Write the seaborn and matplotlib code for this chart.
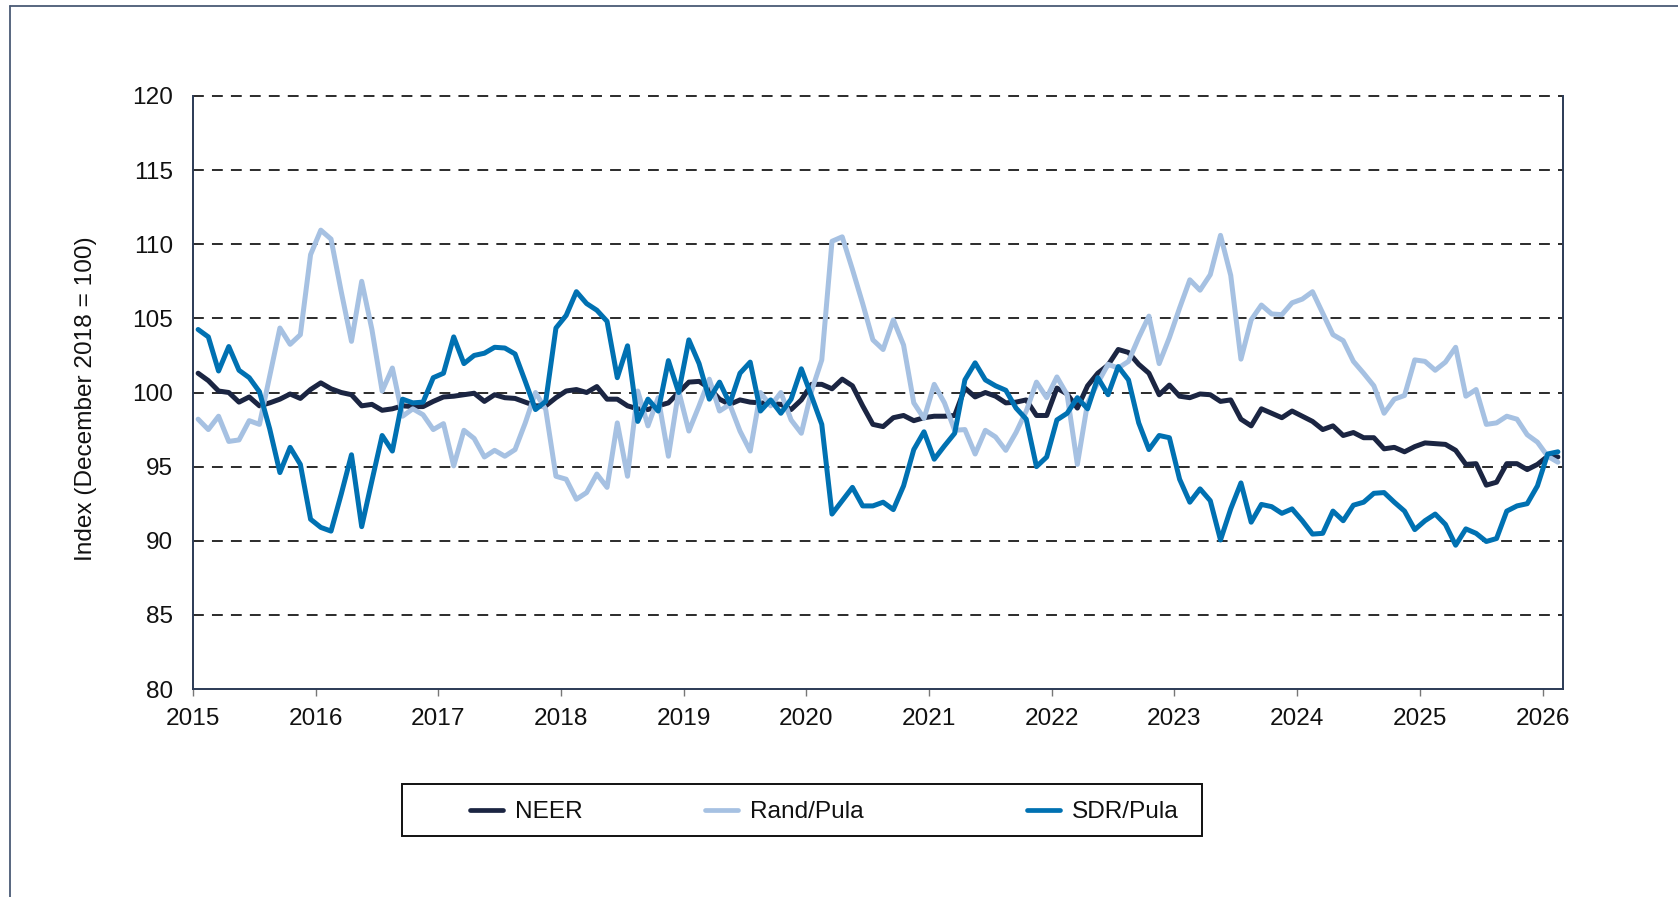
import numpy as np
import pandas as pd
import matplotlib
matplotlib.use("Agg")
import matplotlib.pyplot as plt
import seaborn as sns
from matplotlib.lines import Line2D
from matplotlib.patches import Rectangle

# ---------------- data (monthly, Jan 2015 - Feb 2026) ----------------
start_year = 2015
series_names = ["NEER", "Rand/Pula", "SDR/Pula"]

neer = [101.3, 100.8, 100.1, 100.0, 99.35, 99.7, 99.1, 99.3, 99.55, 99.9, 99.6, 100.2,
        100.65, 100.25, 100.0, 99.85, 99.1, 99.2, 98.8, 98.9, 99.1, 99.05, 99.05, 99.4,
        99.7, 99.75, 99.85, 99.95, 99.4, 99.85, 99.65, 99.6, 99.35, 99.1, 99.1, 99.65,
        100.1, 100.2, 100.0, 100.4, 99.55, 99.55, 99.1, 98.9, 98.85, 99.1, 99.3, 100.0,
        100.7, 100.75, 100.3, 99.55, 99.2, 99.5, 99.35, 99.3, 99.25, 99.2, 98.85, 99.5,
        100.55, 100.55, 100.25, 100.9, 100.45, 99.1, 97.85, 97.7, 98.3, 98.45, 98.1, 98.3,
        98.4, 98.4, 98.45, 100.3, 99.7, 100.0, 99.75, 99.3, 99.35, 99.5, 98.45, 98.45,
        100.3, 99.9, 98.95, 100.45, 101.3, 101.85, 102.9, 102.7, 101.9, 101.3, 99.85, 100.5,
        99.75, 99.65, 99.9, 99.85, 99.4, 99.5, 98.2, 97.75, 98.9, 98.6, 98.3, 98.75,
        98.4, 98.05, 97.5, 97.75, 97.1, 97.3, 96.95, 96.95, 96.2, 96.3, 96.0, 96.35,
        96.6, 96.55, 96.5, 96.1, 95.15, 95.2, 93.75, 93.95, 95.2, 95.2, 94.8, 95.15,
        95.7, 95.65]

rand_pula = [98.2, 97.5, 98.4, 96.7, 96.8, 98.1, 97.85, 101.1, 104.35, 103.25, 103.9, 109.3,
             110.95, 110.35, 106.8, 103.45, 107.5, 104.25, 100.1, 101.65, 98.4, 98.9, 98.5, 97.5,
             97.9, 95.05, 97.45, 96.9, 95.65, 96.1, 95.7, 96.15, 97.95, 100.0, 98.85, 94.35,
             94.15, 92.8, 93.25, 94.5, 93.6, 97.95, 94.35, 100.1, 97.75, 99.65, 95.7, 100.1,
             97.4, 99.1, 100.9, 98.75, 99.2, 97.4, 96.05, 100.0, 99.1, 100.0, 98.15, 97.25,
             100.1, 102.2, 110.2, 110.5, 108.3, 106.0, 103.55, 102.9, 104.9, 103.2, 99.3, 98.25,
             100.55, 99.3, 97.45, 97.5, 95.85, 97.45, 97.0, 96.1, 97.3, 98.75, 100.7, 99.65,
             101.05, 99.85, 95.15, 99.3, 100.65, 101.9, 101.65, 102.1, 103.7, 105.15, 101.95, 103.7,
             105.7, 107.6, 106.9, 107.95, 110.6, 107.9, 102.25, 104.9, 105.9, 105.3, 105.25, 106.05,
             106.3, 106.8, 105.35, 103.9, 103.5, 102.1, 101.3, 100.45, 98.6, 99.55, 99.8, 102.2,
             102.1, 101.5, 102.05, 103.05, 99.75, 100.2, 97.85, 97.95, 98.4, 98.2, 97.15, 96.65,
             95.7, 95.3]

sdr_pula = [104.25, 103.75, 101.45, 103.1, 101.5, 101.0, 100.05, 97.55, 94.6, 96.3, 95.15, 91.45,
            90.9, 90.65, 93.15, 95.8, 90.95, 94.05, 97.1, 96.05, 99.55, 99.3, 99.35, 101.0,
            101.3, 103.75, 101.95, 102.5, 102.65, 103.05, 103.0, 102.6, 100.75, 98.85, 99.4, 104.35,
            105.2, 106.8, 106.0, 105.55, 104.8, 101.0, 103.15, 98.05, 99.55, 98.75, 102.15, 100.0,
            103.55, 101.95, 99.55, 100.7, 99.25, 101.3, 102.05, 98.75, 99.5, 98.6, 99.55, 101.6,
            99.75, 97.85, 91.8, 92.7, 93.6, 92.35, 92.35, 92.6, 92.1, 93.7, 96.15, 97.35,
            95.5, 96.4, 97.25, 100.85, 102.0, 100.85, 100.45, 100.15, 98.95, 98.2, 95.0, 95.65,
            98.15, 98.6, 99.65, 98.9, 101.0, 99.85, 101.75, 100.85, 97.95, 96.15, 97.1, 96.95,
            94.15, 92.6, 93.5, 92.7, 90.05, 92.15, 93.9, 91.25, 92.45, 92.3, 91.85, 92.15,
            91.35, 90.45, 90.5, 92.0, 91.35, 92.4, 92.6, 93.2, 93.25, 92.6, 92.0, 90.75,
            91.35, 91.8, 91.1, 89.7, 90.8, 90.5, 89.95, 90.15, 92.0, 92.35, 92.5, 93.7,
            95.85, 96.0]

year_ticks = list(range(2015, 2027))
y_ticks = [80, 85, 90, 95, 100, 105, 110, 115, 120]
y_label = "Index (December 2018 = 100)"

colors = {"NEER": "#1b2542", "Rand/Pula": "#a6c1e2", "SDR/Pula": "#0071b2"}

# ---------------- build long table ----------------
n = len(neer)
t = start_year + (np.arange(n) + 0.5) / 12.0
df = pd.concat([
    pd.DataFrame({"t": t, "value": neer, "series": "NEER"}),
    pd.DataFrame({"t": t, "value": rand_pula, "series": "Rand/Pula"}),
    pd.DataFrame({"t": t, "value": sdr_pula, "series": "SDR/Pula"}),
], ignore_index=True)

sns.set_theme(style="white")
plt.rcParams["font.family"] = ["Liberation Sans", "DejaVu Sans"]

W, H = 1678, 897
fig = plt.figure(figsize=(W / 100, H / 100), dpi=100)
ax = fig.add_axes([193 / W, 1 - 689 / H, (1563 - 193) / W, (689 - 96) / H])

sns.lineplot(data=df, x="t", y="value", hue="series", hue_order=series_names,
             palette=colors, linewidth=3.6, legend=False, ax=ax, sort=False)

ax.set_xlim(start_year, start_year + n / 12.0)
ax.set_ylim(80, 120)
ax.set_xticks(year_ticks)
ax.set_xticklabels([str(y) for y in year_ticks])
ax.set_yticks(y_ticks)
ax.set_xlabel("")
ax.set_ylabel(y_label, fontsize=17.6, color="#111111")
ax.yaxis.set_label_coords((97 - 193) / (1563 - 193), 0.49)

for v in y_ticks[1:]:
    ax.axhline(v, color="#1a1a1a", lw=1.3, ls=(0, (6, 4.5)), zorder=0.5, clip_on=False)

ax.tick_params(axis="x", length=5, width=1.0, color="#777777", direction="out",
               labelsize=17.6, pad=9, labelcolor="#111111", bottom=True)
ax.tick_params(axis="y", length=0, labelsize=17.6, pad=14.5, labelcolor="#111111")

for s in ["left", "bottom", "right"]:
    ax.spines[s].set_visible(True)
    ax.spines[s].set_color("#2b3a55")
    ax.spines[s].set_linewidth(1.4)
ax.spines["top"].set_visible(False)

# outer frame (left + top edges)
fig.add_artist(Line2D([10 / W, 10 / W], [0, 1 - 6 / H], color="#4a5a75", lw=1.3,
                      transform=fig.transFigure))
fig.add_artist(Line2D([10 / W, 1], [1 - 6 / H, 1 - 6 / H], color="#4a5a75", lw=1.3,
                      transform=fig.transFigure))

# legend box
fig.add_artist(Rectangle((402 / W, 1 - 836 / H), (1202 - 402) / W, (836 - 784) / H,
                         transform=fig.transFigure, fill=False, edgecolor="#111111", lw=1.4))
legend_x = [470, 705, 1027]
for s, lx in zip(series_names, legend_x):
    h = Line2D([0], [0], color=colors[s], lw=3.4, solid_capstyle="round")
    fig.legend([h], [s], loc="center left", bbox_to_anchor=(lx / W, 1 - 812 / H),
               frameon=False, fontsize=17.6, handlelength=1.35, handletextpad=0.5,
               borderpad=0, borderaxespad=0, labelcolor="#111111")

fig.savefig("out.png", dpi=100)
